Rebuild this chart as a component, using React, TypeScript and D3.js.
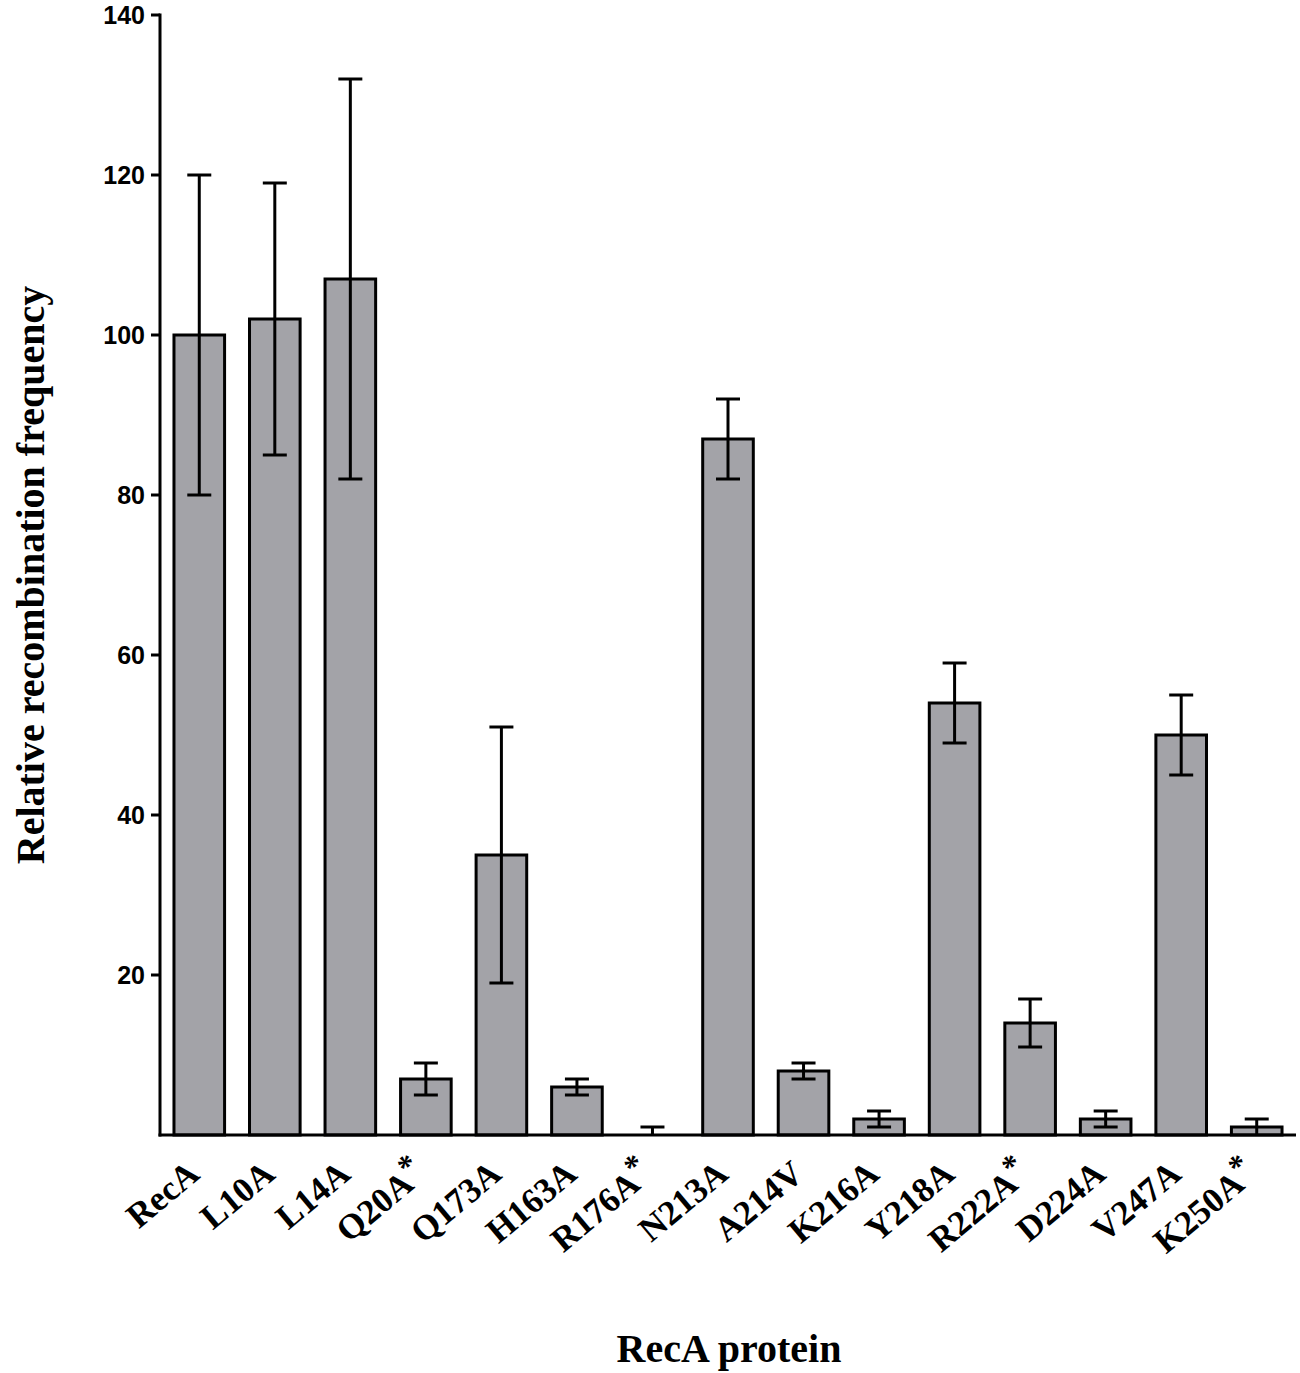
import React from 'react'
import * as d3 from 'd3'

const proteins = ['RecA', 'L10A', 'L14A', 'Q20A*', 'Q173A', 'H163A', 'R176A*', 'N213A', 'A214V', 'K216A', 'Y218A', 'R222A*', 'D224A', 'V247A', 'K250A*']
const frequency = [100, 102, 107, 7, 35, 6, 0, 87, 8, 2, 54, 14, 2, 50, 1]
const errorLow = [80, 85, 82, 5, 19, 5, 0, 82, 7, 1, 49, 11, 1, 45, 0]
const errorHigh = [120, 119, 132, 9, 51, 7, 1, 92, 9, 3, 59, 17, 3, 55, 2]
const yTicks = [20, 40, 60, 80, 100, 120, 140]

const W = 1300
const H = 1373
const axisX = 160
const plotRight = 1296
const plotTop = 15
const plotBottom = 1135

const serif = '"Liberation Serif", "Times New Roman", serif'
const sans = '"Liberation Sans", Arial, sans-serif'

export default function App() {
  const x = d3.scaleBand<string>()
    .domain(proteins)
    .range([axisX, plotRight])
    .paddingInner(0.33)
    .paddingOuter(0.185)

  const y = d3.scaleLinear().domain([0, 140]).range([plotBottom, plotTop])

  const capHalf = 12

  return (
    <>
      <style>{'body{margin:0}'}</style>
      <svg width={W} height={H} style={{ display: 'block', background: '#fff' }}>
        {/* bars */}
        {proteins.map((p, i) => {
          const x0 = x(p)!
          const bw = x.bandwidth()
          const cx = x0 + bw / 2
          const top = y(frequency[i])
          const starred = p.endsWith('*')
          const name = starred ? p.slice(0, -1) : p
          return (
            <g key={p}>
              {frequency[i] > 0 ? (
                <rect
                  x={x0}
                  y={top}
                  width={bw}
                  height={plotBottom - top}
                  fill="#a3a3a8"
                  stroke="#000"
                  strokeWidth={3}
                />
              ) : null}
              <line x1={cx} x2={cx} y1={y(errorLow[i])} y2={y(errorHigh[i])} stroke="#000" strokeWidth={3} />
              <line x1={cx - capHalf} x2={cx + capHalf} y1={y(errorHigh[i])} y2={y(errorHigh[i])} stroke="#000" strokeWidth={3} />
              {errorLow[i] > 0 ? (
                <line x1={cx - capHalf} x2={cx + capHalf} y1={y(errorLow[i])} y2={y(errorLow[i])} stroke="#000" strokeWidth={3} />
              ) : null}
              <text
                transform={`translate(${cx + 2},${plotBottom + 42}) rotate(-40)`}
                textAnchor="end"
                fontFamily={serif}
                fontWeight="bold"
                fontSize={35}
                fill="#000"
              >
                {name}
                {starred ? (
                  <tspan fontSize={32} dy="-0.35em">*</tspan>
                ) : null}
              </text>
            </g>
          )
        })}

        {/* axes */}
        <line x1={axisX} x2={axisX} y1={plotTop - 1.5} y2={plotBottom + 1.5} stroke="#000" strokeWidth={3} />
        <line x1={axisX - 1.5} x2={plotRight} y1={plotBottom} y2={plotBottom} stroke="#000" strokeWidth={3} />
        {yTicks.map((t) => (
          <g key={t}>
            <line x1={axisX - 9} x2={axisX} y1={y(t)} y2={y(t)} stroke="#000" strokeWidth={3} />
            <text
              x={axisX - 15}
              y={y(t)}
              dy="0.36em"
              textAnchor="end"
              fontFamily={sans}
              fontWeight="bold"
              fontSize={25}
              fill="#000"
            >
              {t}
            </text>
          </g>
        ))}

        {/* titles */}
        <text
          transform={`translate(44,575) rotate(-90)`}
          textAnchor="middle"
          fontFamily={serif}
          fontWeight="bold"
          fontSize={40}
          fill="#000"
        >
          Relative recombination frequency
        </text>
        <text
          x={729}
          y={1362}
          textAnchor="middle"
          fontFamily={serif}
          fontWeight="bold"
          fontSize={40}
          fill="#000"
        >
          RecA protein
        </text>
      </svg>
    </>
  )
}
